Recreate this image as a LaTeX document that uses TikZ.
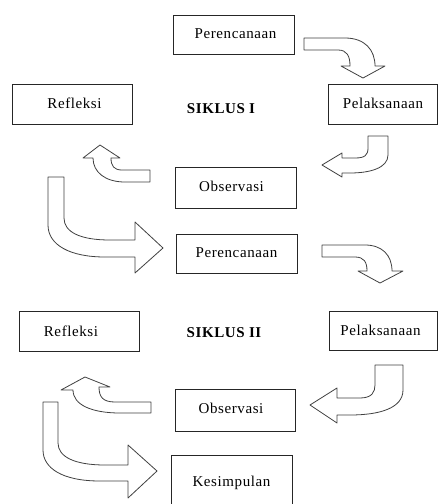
\documentclass[tikz,border=0pt]{standalone}
\usepackage{fontspec}
\setmainfont{Liberation Serif}[LetterSpace=4]
\begin{document}
\begin{tikzpicture}[x=1pt,y=-1pt,
  box/.style={draw=black!85,line width=0.9pt,inner sep=0pt,font=\fontsize{15}{17}\selectfont},
  lbl/.style={inner sep=0pt,font=\fontsize{15}{17}\selectfont\bfseries},
  blockarrow/.style={draw=black!75,fill=white,line width=0.8pt,line join=round}]
\useasboundingbox (0,0) rectangle (438,504);
% boxes
\node[box,minimum width=121pt,minimum height=39pt] (p1) at (233.5,34.5) {\hspace{4pt}\raisebox{1pt}{Perencanaan}};
\node[box,minimum width=120pt,minimum height=40pt] (r1) at (72,104) {\hspace{5pt}\raisebox{2pt}{Refleksi}};
\node[lbl] (s1) at (221,109) {SIKLUS I};
\node[box,minimum width=109pt,minimum height=40pt] (l1) at (383,104) {\raisebox{1pt}{Pelaksanaan}};
\node[box,minimum width=121pt,minimum height=41pt] (o1) at (235.5,187.5) {\hspace{-8pt}\raisebox{3pt}{Observasi}};
\node[box,minimum width=121pt,minimum height=39pt] (p2) at (236.5,253.5) {\raisebox{1pt}{Perencanaan}};
\node[box,minimum width=120pt,minimum height=40pt] (r2) at (79,331) {\hspace{-16pt}\raisebox{0pt}{Refleksi}};
\node[lbl] (s2) at (224,333) {SIKLUS II};
\node[box,minimum width=108pt,minimum height=39pt] (l2) at (383.5,330.5) {\hspace{-6pt}Pelaksanaan};
\node[box,minimum width=120pt,minimum height=42pt] (o2) at (235,410) {\hspace{-8pt}\raisebox{3pt}{Observasi}};
\node[box,minimum width=121pt,minimum height=56pt,text depth=0pt] (k) at (231.5,483) {\raisebox{4pt}{Kesimpulan}};
% block arrows
% A: Perencanaan 1 -> Pelaksanaan 1
\draw[blockarrow] (304,38) -- (345,38) .. controls (365,38) and (375,50) .. (375,66)
  -- (385,66) -- (363,78) -- (341,66) -- (350,66)
  .. controls (350,56) and (347,50) .. (338,50) -- (304,50) -- cycle;
% B: Pelaksanaan 1 -> Observasi 1
\draw[blockarrow] (368,136) -- (388,136) -- (388,155)
  .. controls (388,168) and (370,173) .. (350,173) -- (342,173) -- (342,177)
  -- (322,165) -- (342,153) -- (342,158) -- (355,158)
  .. controls (365,158) and (368,155) .. (368,148) -- cycle;
% C: Observasi 1 -> Refleksi 1
\draw[blockarrow] (150,170) -- (150,182) -- (125,182)
  .. controls (105,182) and (93,172) .. (93,158) -- (83,158) -- (100,145)
  -- (120,158) -- (111,158) .. controls (111,166) and (114,170) .. (122,170) -- cycle;
% D: Refleksi 1 -> Perencanaan 2
\draw[blockarrow] (48,177) -- (64,177) -- (64,218)
  .. controls (64,232) and (80,240) .. (110,240) -- (135,240) -- (135,222)
  -- (163,248) -- (135,273) -- (135,257) -- (105,257)
  .. controls (70,257) and (48,245) .. (48,225) -- cycle;
% E: Perencanaan 2 -> Pelaksanaan 2
\draw[blockarrow] (322,245) -- (365,245) .. controls (382,245) and (392,255) .. (392,271)
  -- (403,271) -- (380,283) -- (358,271) -- (367,271)
  .. controls (367,262) and (364,257) .. (355,257) -- (322,257) -- cycle;
% F: Pelaksanaan 2 -> Observasi 2
\draw[blockarrow] (375,365) -- (403,365) -- (403,390)
  .. controls (403,408) and (380,415) .. (350,415) -- (337,415) -- (337,423)
  -- (310,405) -- (337,388) -- (337,398) -- (360,398)
  .. controls (372,398) and (375,392) .. (375,385) -- cycle;
% G: Observasi 2 -> Refleksi 2
\draw[blockarrow] (151,402) -- (151,413) -- (120,413)
  .. controls (92,413) and (73,405) .. (73,390) -- (61,390) -- (85,377)
  -- (110,387) -- (99,387) .. controls (99,397) and (103,402) .. (115,402) -- cycle;
% H: Refleksi 2 -> Kesimpulan
\draw[blockarrow] (43,402) -- (58,402) -- (58,443)
  .. controls (58,457) and (75,465) .. (105,465) -- (128,465) -- (128,445)
  -- (157,471) -- (128,498) -- (128,481) -- (100,481)
  .. controls (62,481) and (43,468) .. (43,450) -- cycle;
\end{tikzpicture}
\end{document}
